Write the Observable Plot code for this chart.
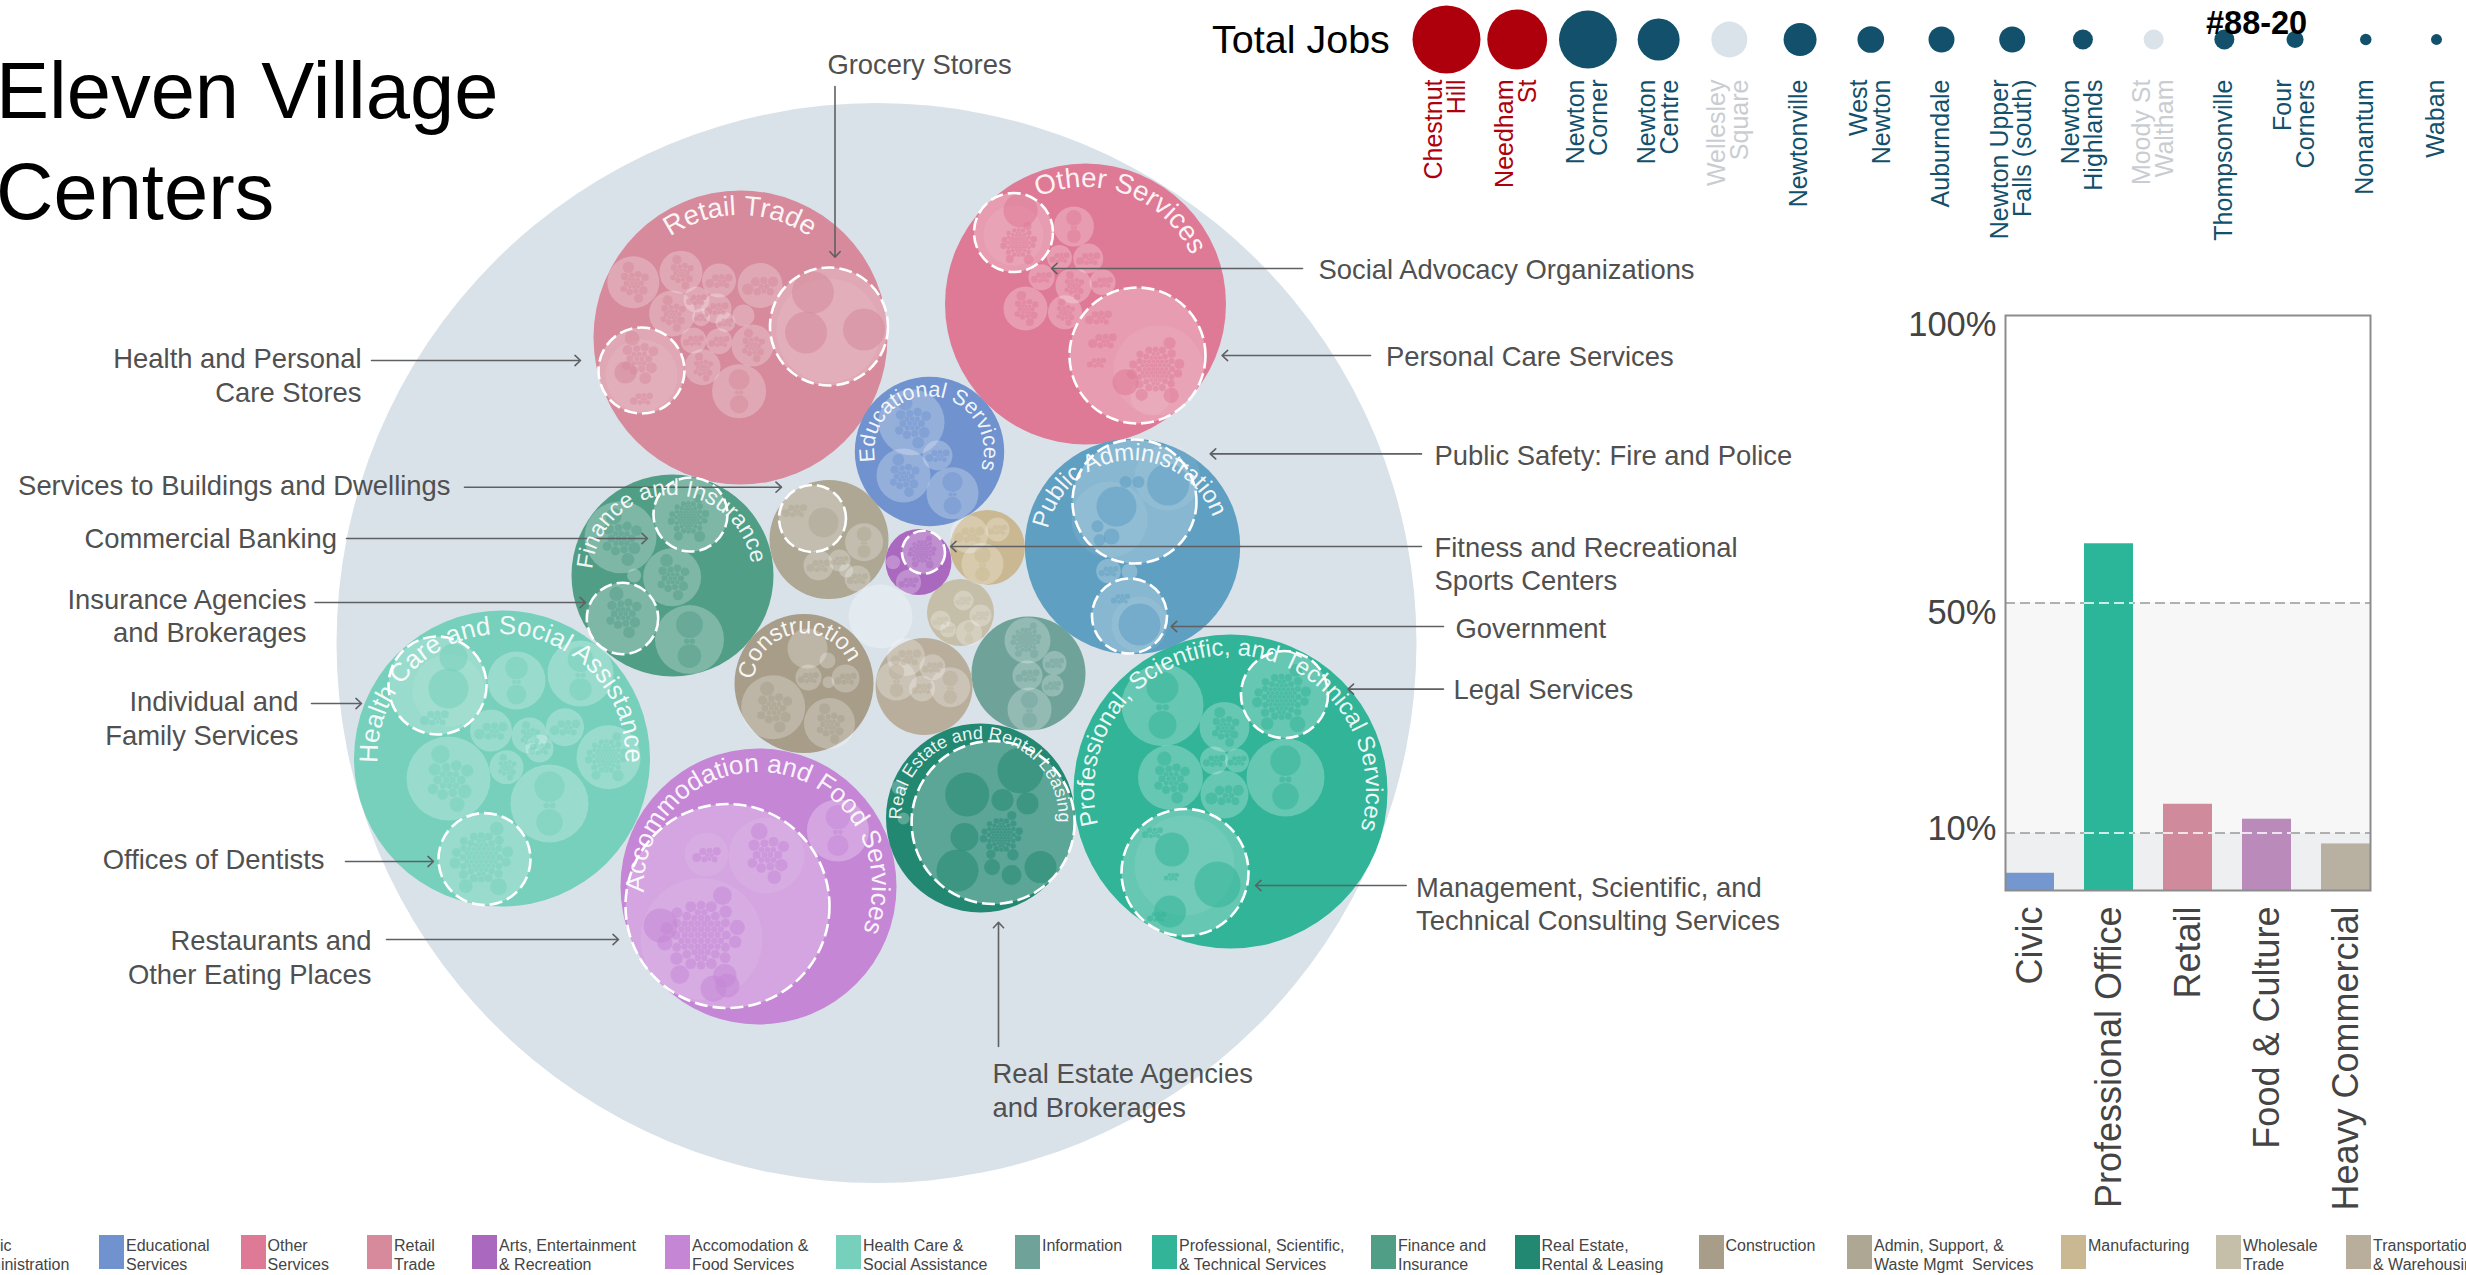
<!DOCTYPE html>
<html><head><meta charset="utf-8">
<script src="https://cdn.jsdelivr.net/npm/d3@7"></script>
<script src="https://cdn.jsdelivr.net/npm/@observablehq/plot@0.6"></script>
<style>
html,body{margin:0;padding:0;background:#fff}
#page{position:relative;width:2466px;height:1275px;overflow:hidden;font-family:"Liberation Sans",Arial,sans-serif}
#page>*{position:absolute}
#title{left:-4px;top:40px;font-size:79.5px;line-height:101px;color:#000;white-space:pre;z-index:3;margin:0;font-weight:400}
#jobsTitle{left:1212px;top:17px;font-size:39.5px;line-height:44px;color:#000;z-index:3}
#stamp{left:2206px;top:5px;font-size:32.5px;line-height:36px;font-weight:700;color:#000;z-index:4}
.lg{top:1235px;height:34px;white-space:pre;font-size:16px;line-height:19px;color:#444}
.lg i{position:absolute;left:0;top:0;width:25px;height:34px}
.lg span{position:absolute;left:27px;top:1px}
</style></head><body><div id="page">
<h1 id="title">Eleven Village
Centers</h1>
<div id="jobsTitle">Total Jobs</div>
<div id="stamp">#88-20</div>
</div>
<script>
// ---------- village strip ----------
const villages=["Chestnut\nHill","Needham\nSt","Newton\nCorner","Newton\nCentre","Wellesley\nSquare","Newtonville","West\nNewton","Auburndale","Newton Upper\nFalls (south)","Newton\nHighlands","Moody St\nWaltham","Thompsonville","Four\nCorners","Nonantum","Waban"];
const villageJobs=[12000,9300,8700,4580,3360,2830,1840,1750,1750,1040,1040,1040,750,340,310];
const villageGroup=["focus","focus","newton","newton","other","newton","newton","newton","newton","newton","other","newton","newton","newton","newton"];
// ---------- land use bars ----------
const landUses=["Civic","Professional Office","Retail","Food & Culture","Heavy Commercial"];
const landShare=[3.0,60.3,15.0,12.4,8.1];
const shareGuides=[10,50];
const shareBands=[[0,10],[10,50]];
const shareTickText=["100%","50%","10%"];
const shareTickAt=[98.4,48.3,10.7];
// ---------- sectors (map units) ----------
const sectors=["Retail Trade","Other Services","Educational Services","Public Administration","Finance and Insurance","Admin","Arts","Manufacturing","Utilities","Wholesale","Construction","Transportation","Information","Real Estate and Rental Leasing","Professional, Scientific, and Technical Services","Accommodation and Food Services","Health Care and Social Assistance"];
const sectorX=[740,1085,929,1132,672,828.5,918,987,880,960,803.5,923.6,1028,980,1230,758,501.5];
const sectorY=[337,303.5,451,546,575,539,561.5,547,616,612,683,686,673,817.5,791,886,758];
const sectorR=[147,140.5,74.7,107.7,101,59.5,33,37.5,32,33.5,69.5,48.5,57,94.5,157,138,148];
// curved sector titles: sector, centre angle (deg from top), font size, inset from rim
const arcTitles=[
 ["Retail Trade",0,27.5,25],["Other Services",21,27.5,24],["Educational Services",4,21.5,20],
 ["Public Administration",-4,24,22],["Finance and Insurance",-2,23,21],["Construction",-10,23.5,20],
 ["Health Care and Social Assistance",0,26,24],["Accommodation and Food Services",10,26,24],
 ["Real Estate and Rental Leasing",1,18,16],["Professional, Scientific, and Technical Services",1,24,21]];
// ---------- establishment size lists ----------
const dense=[1,1,1,1,1,1,1,1,1,1,1,1,1,1,1,1,1,1,1,1,1,1,1,1,1,1,1,1,1,1,1,1,1,1,1,1,1,1,1,1,1,1,2,2,2,2,2,2,2,2,2,2,2,2,3,3,3,3,3,3,4,4,4,4,6,6,9,9,14];
const medium=[1,1,1,1,1,1,1,1,2,2,2,2,3,3,3,4,4,5,6,9];
const small=[1,1,1,2,2,2,3,4,5];
const pair=[1,1,20,26];
const patterns={dense,medium,small,pair};
// ---------- sub-industries: sector, x, y, r, size list ----------
const industries=[
 ["Retail Trade",632.8,281.7,26,"medium"],["Retail Trade",680.5,271.7,21.5,"medium"],["Retail Trade",718.5,280,17,"small"],["Retail Trade",759.6,285,22.5,"small"],["Retail Trade",671.6,313,23,"medium"],["Retail Trade",696,299,13,"small"],["Retail Trade",716,308,15,"small"],["Retail Trade",700.6,316.7,9,"small"],["Retail Trade",725,321.7,10,"small"],["Retail Trade",743,315,11,null],["Retail Trade",693,340,13,"small"],["Retail Trade",718.5,340.7,13,"small"],["Retail Trade",752,345,21,"medium"],["Retail Trade",702,366.7,18,"medium"],["Retail Trade",738.6,390.7,27,"pair"],
 ["Other Services",1073.4,226,20,"pair"],["Other Services",1087.7,258,15,"small"],["Other Services",1059,257,12.5,"small"],["Other Services",1041,276.7,13,"small"],["Other Services",1025,308,22,"medium"],["Other Services",1064.5,311.7,17,"medium"],["Other Services",1073,285,18,"medium"],["Other Services",1102,281.7,13,"small"],
 ["Educational Services",911,421.7,33,"medium"],["Educational Services",937,455,15,"small"],["Educational Services",903,475,27,"medium"],["Educational Services",952,492.7,26,"pair"],
 ["Public Administration",1108,570.5,12.3,"small"],["Public Administration",1129,571,8,null],
 ["Finance and Insurance",620,536.7,36,"medium"],["Finance and Insurance",671.6,576.7,29,"medium"],["Finance and Insurance",689,639,34.5,"pair"],["Finance and Insurance",633.6,575,7,null],
 ["Health Care and Social Assistance",516,680,29,"pair"],["Health Care and Social Assistance",580,673,33,"pair"],["Health Care and Social Assistance",490.5,730,21,"small"],["Health Care and Social Assistance",529,735,18,"medium"],["Health Care and Social Assistance",564.5,726.7,19,"small"],["Health Care and Social Assistance",608,756.7,32,"dense"],["Health Care and Social Assistance",539,748,14,"small"],["Health Care and Social Assistance",506,766.7,17,"medium"],["Health Care and Social Assistance",448,778,42,"medium"],["Health Care and Social Assistance",549,803,39,"pair"],
 ["Accommodation and Food Services",837.4,830,31,"pair"],
 ["Real Estate and Rental Leasing",898,787,7,null],["Real Estate and Rental Leasing",903,818,6,null],
 ["Professional, Scientific, and Technical Services",1162,704.7,41,"pair"],["Professional, Scientific, and Technical Services",1224,726.4,25,"medium"],["Professional, Scientific, and Technical Services",1213.6,760,14,"small"],["Professional, Scientific, and Technical Services",1236.5,760,12,"small"],["Professional, Scientific, and Technical Services",1170,777,32.5,"medium"],["Professional, Scientific, and Technical Services",1224,794,24,"small"],["Professional, Scientific, and Technical Services",1285,777,39,"pair"],
 ["Information",1027,640,23,"dense"],["Information",1054,662.4,12,"small"],["Information",1027,675,15,"small"],["Information",1052,685,11,"small"],["Information",1029,709,22,"pair"],
 ["Construction",807,648,20,null],["Construction",772.7,706.7,32,"medium"],["Construction",829,723,25.5,"medium"],["Construction",808,677,13,"small"],["Construction",845,678,14,"small"],["Construction",827,660,8,null],["Construction",828,681.7,6,null],
 ["Transportation",905.5,656.5,19,"small"],["Transportation",896,680,20,"pair"],["Transportation",932,666.7,13,"small"],["Transportation",949.7,686.7,20,"pair"],["Transportation",921.6,688,13,"small"],
 ["Wholesale",940,620,10,"small"],["Wholesale",963,600,10,"small"],["Wholesale",980,615,11,"small"],["Wholesale",968.6,632.4,13,"pair"],["Wholesale",947.6,629,8,"small"],
 ["Admin",863.6,541.7,19,"pair"],["Admin",818,565,15,"small"],["Admin",857,578,13,"small"],["Admin",839,560,11,"small"],["Admin",845.7,570,7,null],
 ["Arts",908,581.7,12.5,"small"],["Arts",892.6,561.7,7,null],
 ["Manufacturing",968.6,534,19,"small"],["Manufacturing",997,529,12,"small"],["Manufacturing",982,563.6,21,"pair"]
];
// ---------- the sub-industries named in the callouts ----------
const namedIndustries=[
 ["Grocery Stores","Retail Trade",828.5,326,59],["Health and Personal Care Stores","Retail Trade",641,370,43],
 ["Social Advocacy Organizations","Other Services",1013,232,39.5],["Personal Care Services","Other Services",1137,355,68],
 ["Public Safety: Fire and Police","Public Administration",1134,501,62],["Government","Public Administration",1129,615.5,37.5],
 ["Commercial Banking","Finance and Insurance",690,514,37],["Insurance Agencies and Brokerages","Finance and Insurance",622,618,35.7],
 ["Individual and Family Services","Health Care and Social Assistance",437,685,49],["Offices of Dentists","Health Care and Social Assistance",484,858.6,46],
 ["Restaurants and Other Eating Places","Accommodation and Food Services",727,905.5,102],
 ["Real Estate Agencies and Brokerages","Real Estate and Rental Leasing",992.6,822,81.5],
 ["Legal Services","Professional, Scientific, and Technical Services",1284,694,43.5],["Management, Scientific, and Technical Consulting Services","Professional, Scientific, and Technical Services",1184.5,872,63.5],
 ["Services to Buildings and Dwellings","Admin",812,518,33.5],["Fitness and Recreational Sports Centers","Arts",923,551.7,21.5]
];
// lighter tier nested inside the named sub-industries
const innerTier=[
 [701,938.5,61],[766,855,38],[706,854,22],[1158,370,45],[1109,519,38],[1167,477,33],[1150,395,20],
 [828,330,52],[641,375,36],[1013,235,30],[1184,865,50],[1139,624,28],[448,690,36]
];
// single larger establishments: sector, x, y, r
const largeFirms=[
 ["Retail Trade",812.4,292,21],["Retail Trade",805.6,332,21],["Retail Trade",863.5,329,21],
 ["Retail Trade",625,372,11],["Other Services",1020,210,17],["Other Services",1125,381.7,13],
 ["Public Administration",1116,506,20],["Public Administration",1167.6,484,21],["Public Administration",1125,481.6,6],["Public Administration",1138,481.6,6],["Public Administration",1097,525.7,6],["Public Administration",1111,536,8],["Public Administration",1099,539.5,6],["Public Administration",1139,624,21],
 ["Real Estate and Rental Leasing",966.7,794,22],["Real Estate and Rental Leasing",1020,770,23],["Real Estate and Rental Leasing",957,870,21],["Real Estate and Rental Leasing",1040,866.6,16],["Real Estate and Rental Leasing",964,836.6,14],["Real Estate and Rental Leasing",1002,799.5,11],["Real Estate and Rental Leasing",1027,803,11],["Real Estate and Rental Leasing",1011,874.5,10],["Real Estate and Rental Leasing",991.6,866.6,8],
 ["Professional, Scientific, and Technical Services",1171.5,849,17],["Professional, Scientific, and Technical Services",1217,884,23],["Professional, Scientific, and Technical Services",1169.5,911,16],
 ["Health Care and Social Assistance",448,688,20],["Health Care and Social Assistance",453,657,14],
 ["Accommodation and Food Services",660,925,17],["Accommodation and Food Services",713,988,13],["Accommodation and Food Services",727,985,12],
 ["Admin",823,522,15]
];
// clusters of establishments: sector, x, y, r, size list
const firmClusters=[
 ["Retail Trade",638,357,28,"medium"],["Retail Trade",641,398,12,"small"],
 ["Other Services",1020,243,23,"dense"],["Other Services",1158,370,36,"dense"],["Other Services",1098,316.7,14,"small"],["Other Services",1102,340,15,"small"],["Other Services",1096,362,10,"small"],
 ["Public Administration",1120,598,10,"small"],
 ["Finance and Insurance",690,518,26,"dense"],["Finance and Insurance",622,612,27,"medium"],
 ["Health Care and Social Assistance",434,717,15,"small"],["Health Care and Social Assistance",484,858.6,40,"dense"],
 ["Accommodation and Food Services",705,937,55,"dense"],["Accommodation and Food Services",766,853,32,"medium"],["Accommodation and Food Services",706,854,15,"small"],
 ["Real Estate and Rental Leasing",1003,835.6,27,"dense"],
 ["Professional, Scientific, and Technical Services",1284,698,37,"dense"],["Professional, Scientific, and Technical Services",1152,832,11,"small"],["Professional, Scientific, and Technical Services",1156,916,10,"small"],["Professional, Scientific, and Technical Services",1171,876,8,"small"],
 ["Admin",794,510,13,"small"],["Arts",923,551.7,18,"dense"]
];
// callouts: text, text position, arrow from / to
const calloutsLeft=[
 ["Social Advocacy Organizations",1318,268],["Personal Care Services",1385.5,354.4],["Public Safety: Fire and Police",1434,453.5],
 ["Fitness and Recreational\nSports Centers",1434,562.5],["Government",1455,626.5],["Legal Services",1453,688],
 ["Management, Scientific, and\nTechnical Consulting Services",1415.5,902.5],["Real Estate Agencies\nand Brokerages",992,1089]];
const calloutsRight=[
 ["Health and Personal\nCare Stores",361,374],["Services to Buildings and Dwellings",450,483.5],["Commercial Banking",336.6,537],
 ["Insurance Agencies\nand Brokerages",306,614.5],["Individual and\nFamily Services",298,717],["Offices of Dentists",324,858],
 ["Restaurants and\nOther Eating Places",371,956]];
const calloutsMiddle=[["Grocery Stores",919,65]];
const arrows=[
 [834.5,86,834.5,256.7],[371,360,580,360],[1302,268,1051,268],[1370,355,1221.6,355],[1421,453.4,1209.7,453.4],
 [1421,546,950,546],[1443,626,1170.7,626],[1443,688.6,1347.5,688.6],[1405.7,885,1255,885],[998,1046,998,921.7],
 [386,939,618,939],[345,861,433,861],[311,703,361,703],[314.5,602,585,602],[346,538,647,538],[464,486.7,781,486.7]
];
// ---------- legend ----------
const legendNames=["Public\nAdministration","Educational\nServices","Other\nServices","Retail\nTrade","Arts, Entertainment\n& Recreation","Accomodation &\nFood Services","Health Care &\nSocial Assistance","Information","Professional, Scientific,\n& Technical Services","Finance and\nInsurance","Real Estate,\nRental & Leasing","Construction","Admin, Support, &\nWaste Mgmt  Services","Manufacturing","Wholesale\nTrade","Transportation\n& Warehousing"];
const legendSectors=["Public Administration","Educational Services","Other Services","Retail Trade","Arts","Accommodation and Food Services","Health Care and Social Assistance","Information","Professional, Scientific, and Technical Services","Finance and Insurance","Real Estate and Rental Leasing","Construction","Admin","Manufacturing","Wholesale","Transportation"];
const legendLeft=[-59,99,240.6,367,472,665,836,1015,1152,1371,1514.5,1698.5,1847,2061,2216,2346];

// ---------- styles ----------
const sectorColors={"Retail Trade":"#d68a9b","Other Services":"#df7a96","Educational Services":"#7093cf","Public Administration":"#5f9fc2","Finance and Insurance":"#519e87","Admin":"#ada793","Arts":"#aa69bf","Manufacturing":"#c9b891","Utilities":"#e3eaf0","Wholesale":"#c5bfa9","Construction":"#a79d89","Transportation":"#b9ae9b","Information":"#6fa39a","Real Estate and Rental Leasing":"#228872","Professional, Scientific, and Technical Services":"#31b497","Accommodation and Food Services":"#c586d6","Health Care and Social Assistance":"#76d0bc"};
const landColors={"Civic":"#7597cf","Professional Office":"#2bb599","Retail":"#cf8a9c","Food & Culture":"#ba8abb","Heavy Commercial":"#b8b0a0"};
const groupColors={focus:"#ae000c",newton:"#12506b",other:"#dae3ea"};
const groupText={focus:"#ae000c",newton:"#12506b",other:"#c9cdd1"};
const page=document.getElementById("page");
const font='"Liberation Sans",Arial,sans-serif';

// pack the establishment size lists inside a cluster circle
function packCluster(sector,x,y,r,name){
  const circles=patterns[name].map(v=>({r:Math.sqrt(v)}));
  d3.packSiblings(circles);
  const e=d3.packEnclose(circles);
  const k=r/e.r;
  return circles.map(c=>({sector,x:x+(c.x-e.x)*k,y:y+(c.y-e.y)*k,r:c.r*k*0.95}));
}
const tinyFirms=[
  ...firmClusters.flatMap(c=>packCluster(c[0],c[1],c[2],c[3],c[4])),
  ...industries.filter(d=>d[4]).flatMap(d=>packCluster(d[0],d[1],d[2],d[3]*0.84,d[4]))
];
const sectorRows=sectors.map((name,i)=>({name,x:sectorX[i],y:sectorY[i],r:sectorR[i]}));
const byName=new Map(sectorRows.map(d=>[d.name,d]));

// curved sector titles, drawn through the plot's own scales
function arcTitleMark(index,{x,y}){
  const NS="http://www.w3.org/2000/svg";
  const g=document.createElementNS(NS,"g");
  arcTitles.forEach(([name,angle,size,inset],i)=>{
    const s=byName.get(name), cx=x(s.x), cy=y(s.y), rb=x(s.x+s.r-inset)-cx;
    const a=angle*Math.PI/180;
    const sx=cx-rb*Math.sin(a), sy=cy+rb*Math.cos(a), mx=cx+rb*Math.sin(a), my=cy-rb*Math.cos(a);
    const p=document.createElementNS(NS,"path");
    p.setAttribute("id","arc"+i);p.setAttribute("fill","none");
    p.setAttribute("d",`M${sx},${sy}A${rb},${rb} 0 1 1 ${mx},${my}A${rb},${rb} 0 1 1 ${sx},${sy}`);
    g.appendChild(p);
    const t=document.createElementNS(NS,"text");
    t.setAttribute("font-size",size);t.setAttribute("fill","#fff");t.setAttribute("text-anchor","middle");
    t.setAttribute("fill-opacity",".92");
    const tp=document.createElementNS(NS,"textPath");
    tp.setAttribute("href","#arc"+i);tp.setAttribute("startOffset","50%");tp.textContent=name;
    t.appendChild(tp);g.appendChild(t);
  });
  return g;
}

const mapW=1860,mapH=1200;
const mapPlot=Plot.plot({
  width:mapW,height:mapH,margin:0,
  x:{domain:[0,mapW],range:[0,mapW],axis:null},
  y:{domain:[0,mapH],range:[0,mapH],axis:null},
  r:{type:"linear",domain:[0,540],range:[0,540]},
  color:{type:"identity"},
  style:{fontFamily:font,background:"transparent"},
  marks:[
    Plot.dot([{x:876,y:642.5,r:540}],{x:"x",y:"y",r:"r",fill:"#d9e2e9"}),
    Plot.dot(sectorRows,{x:"x",y:"y",r:"r",fill:d=>sectorColors[d.name]}),
    Plot.dot(industries,{x:d=>d[1],y:d=>d[2],r:d=>d[3],fill:"#fff",fillOpacity:.26}),
    Plot.dot(namedIndustries,{x:d=>d[2],y:d=>d[3],r:d=>d[4],fill:"#fff",fillOpacity:.26}),
    Plot.dot(innerTier,{x:d=>d[0],y:d=>d[1],r:d=>d[2],fill:"#fff",fillOpacity:.08}),
    Plot.dot(largeFirms,{x:d=>d[1],y:d=>d[2],r:d=>d[3],fill:d=>sectorColors[d[0]],fillOpacity:.55}),
    Plot.dot(tinyFirms,{x:"x",y:"y",r:"r",fill:d=>sectorColors[d.sector],fillOpacity:.5}),
    Plot.dot(namedIndustries,{x:d=>d[2],y:d=>d[3],r:d=>d[4],fill:"none",stroke:"#fff",strokeWidth:2.6,strokeDasharray:"13,5"}),
    Plot.arrow(arrows,{x1:d=>d[0],y1:d=>d[1],x2:d=>d[2],y2:d=>d[3],bend:0,stroke:"#5e6063",strokeWidth:1.6,headAngle:85,headLength:7}),
    arcTitleMark,
    Plot.text(calloutsLeft,{x:d=>d[1],y:d=>d[2],text:d=>d[0],textAnchor:"start",fontSize:27.4,lineHeight:1.22,fill:"#505050"}),
    Plot.text(calloutsRight,{x:d=>d[1],y:d=>d[2],text:d=>d[0],textAnchor:"end",fontSize:27.4,lineHeight:1.22,fill:"#505050"}),
    Plot.text(calloutsMiddle,{x:d=>d[1],y:d=>d[2],text:d=>d[0],textAnchor:"middle",fontSize:27.4,fill:"#505050"})
  ]
});
mapPlot.style.left="0";mapPlot.style.top="0";page.appendChild(mapPlot);

// total jobs strip
const stripRows=villages.map((name,i)=>({name,jobs:villageJobs[i],group:villageGroup[i]}));
const strip=Plot.plot({
  width:1066,height:262,margin:0,
  x:{type:"point",domain:villages,range:[46,1036],padding:0,round:false,axis:null},
  r:{type:"sqrt",domain:[0,12000],range:[0,34]},
  color:{type:"identity"},
  style:{fontFamily:font,background:"transparent"},
  marks:[
    Plot.dot(stripRows,{x:"name",frameAnchor:"top",dy:39,r:"jobs",fill:d=>groupColors[d.group]}),
    Plot.text(stripRows,{x:"name",frameAnchor:"top",dy:79,rotate:-90,textAnchor:"end",lineAnchor:"middle",text:"name",fontSize:25,lineHeight:.92,fill:d=>groupText[d.group]})
  ]
});
strip.style.left="1400px";strip.style.top="0";page.appendChild(strip);

// land-use share bars
const barRows=landUses.map((name,i)=>({name,share:landShare[i]}));
const bars=Plot.plot({
  width:510,height:935,marginLeft:125,marginRight:20,marginTop:15,marginBottom:345,
  x:{domain:landUses,paddingInner:.38,paddingOuter:0,round:false,label:null},
  y:{domain:[0,100],axis:null},
  color:{type:"identity"},
  style:{fontFamily:font,background:"transparent"},
  marks:[
    Plot.rect(shareBands,{y1:d=>d[0],y2:d=>d[1],fill:(d,i)=>i?"#f7f7f8":"#eeeff1"}),
    Plot.ruleY(shareGuides,{stroke:"#999",strokeWidth:1.6,strokeDasharray:"10,5"}),
    Plot.barY(barRows,{x:"name",y:"share",fill:d=>landColors[d.name]}),
    Plot.tickY(barRows.flatMap(b=>shareGuides.filter(g=>g<b.share).map(g=>({name:b.name,g}))),{x:"name",y:"g",stroke:"#fff",strokeWidth:1.6,strokeDasharray:"10,5"}),
    Plot.frame({stroke:"#8c8c8c",strokeWidth:2}),
    Plot.text(shareTickText,{y:(d,i)=>shareTickAt[i],text:d=>d,frameAnchor:"left",dx:-9,textAnchor:"end",fontSize:34.5,fill:"#444"}),
    Plot.axisX({tickRotate:-90,tickSize:0,tickPadding:16,fontSize:36,color:"#444",label:null})
  ]
});
bars.style.left="1880px";bars.style.top="300px";page.appendChild(bars);

// legend
legendNames.forEach((name,i)=>{
  const d=document.createElement("div");d.className="lg";d.style.left=legendLeft[i]+"px";
  const sw=document.createElement("i");sw.style.background=sectorColors[legendSectors[i]];
  const t=document.createElement("span");t.textContent=name;
  d.append(sw,t);page.appendChild(d);
});
</script></body></html>
